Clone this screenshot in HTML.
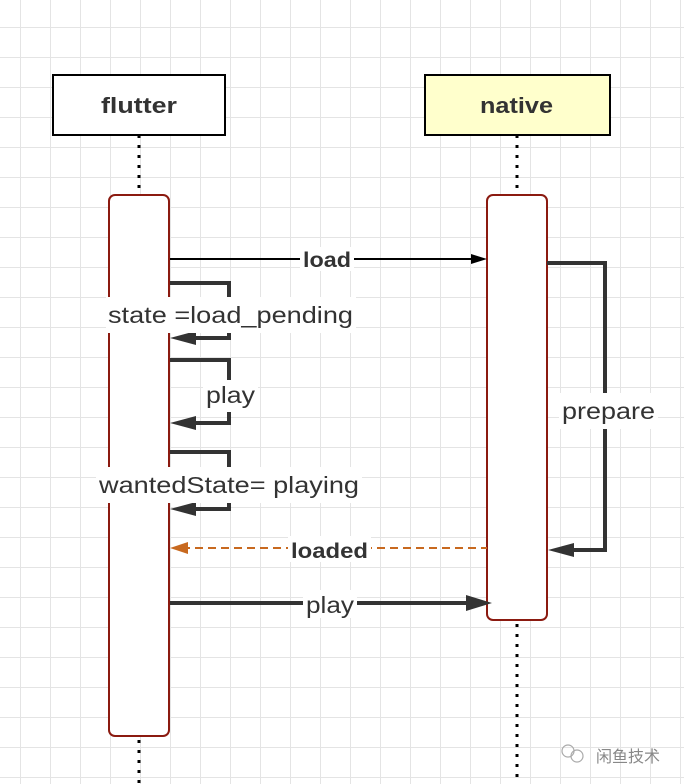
<!DOCTYPE html>
<html><head><meta charset="utf-8"><style>
body{margin:0;background:#fff}
svg{display:block}
text{font-family:"Liberation Sans","Noto Sans CJK SC",sans-serif;fill:#333}
</style></head><body>
<svg width="684" height="784" viewBox="0 0 684 784" xmlns="http://www.w3.org/2000/svg">
<defs>
<pattern id="g" x="20" y="27" width="30" height="30" patternUnits="userSpaceOnUse">
<path d="M0 0H30M0 0V30" stroke="#e4e4e4" stroke-width="2" fill="none"/>
</pattern>
</defs>
<rect width="684" height="784" fill="url(#g)"/>
<line x1="139" y1="135" x2="139" y2="195" stroke="#000" stroke-width="3" stroke-dasharray="3 7"/>
<line x1="139" y1="740" x2="139" y2="784" stroke="#000" stroke-width="3" stroke-dasharray="3 7"/>
<line x1="517" y1="135" x2="517" y2="195" stroke="#000" stroke-width="3" stroke-dasharray="3 7"/>
<line x1="517" y1="624" x2="517" y2="784" stroke="#000" stroke-width="3" stroke-dasharray="3 7"/>
<rect x="53" y="75" width="172" height="60" fill="#fff" stroke="#000" stroke-width="2"/>
<text x="101" y="113" textLength="76" lengthAdjust="spacingAndGlyphs" font-size="22" font-weight="bold">flutter</text>
<rect x="425" y="75" width="185" height="60" fill="#ffffcc" stroke="#000" stroke-width="2"/>
<text x="480" y="113" textLength="73" lengthAdjust="spacingAndGlyphs" font-size="22" font-weight="bold">native</text>
<rect x="109" y="195" width="60" height="541" rx="6" fill="#fff" stroke="#8b1a10" stroke-width="2"/>
<rect x="487" y="195" width="60" height="425" rx="6" fill="#fff" stroke="#8b1a10" stroke-width="2"/>
<line x1="170" y1="259" x2="475" y2="259" stroke="#000" stroke-width="2"/>
<polygon points="487,259 471,254 471,264" fill="#000"/>
<rect x="300" y="247" width="54" height="24" fill="#fff"/>
<text x="303" y="267" textLength="48" lengthAdjust="spacingAndGlyphs" font-size="21" font-weight="bold">load</text>
<g stroke="#333" stroke-width="4" fill="none">
<path d="M170 283H229V338H182"/>
<path d="M170 360H229V423H182"/>
<path d="M170 452H229V509H182"/>
<path d="M547 263H605V550H560"/>
</g>
<g fill="#333">
<polygon points="170,338 196,331 196,345"/>
<polygon points="170,423 196,416 196,430"/>
<polygon points="170,509 196,502 196,516"/>
<polygon points="548,550 574,543 574,557"/>
</g>
<rect x="106" y="297" width="250" height="36" fill="#fff"/>
<text x="108" y="323" textLength="245" lengthAdjust="spacingAndGlyphs" font-size="23">state =load_pending</text>
<rect x="203" y="380" width="55" height="32" fill="#fff"/>
<text x="206" y="403" textLength="49" lengthAdjust="spacingAndGlyphs" font-size="23">play</text>
<rect x="96" y="467" width="266" height="36" fill="#fff"/>
<text x="99" y="493" textLength="260" lengthAdjust="spacingAndGlyphs" font-size="23">wantedState= playing</text>
<rect x="559" y="393" width="99" height="36" fill="#fff"/>
<text x="562" y="419" textLength="93" lengthAdjust="spacingAndGlyphs" font-size="23">prepare</text>
<line x1="182" y1="548" x2="487" y2="548" stroke="#c8691f" stroke-width="2" stroke-dasharray="8 5"/>
<polygon points="170,548 188,542 188,554" fill="#c8691f"/>
<rect x="288" y="536" width="83" height="26" fill="#fff"/>
<text x="291" y="558" textLength="77" lengthAdjust="spacingAndGlyphs" font-size="21" font-weight="bold">loaded</text>
<line x1="170" y1="603" x2="470" y2="603" stroke="#333" stroke-width="4"/>
<polygon points="492,603 466,595 466,611" fill="#333"/>
<rect x="303" y="590" width="54" height="28" fill="#fff"/>
<text x="306" y="613" textLength="48" lengthAdjust="spacingAndGlyphs" font-size="23">play</text>
<circle cx="568" cy="751" r="6" fill="none" stroke="#aaa" stroke-width="1.2"/>
<circle cx="577" cy="756" r="6" fill="none" stroke="#aaa" stroke-width="1.2"/>
<text x="596" y="762" font-size="16" style="fill:#888">闲鱼技术</text>
</svg>
</body></html>
